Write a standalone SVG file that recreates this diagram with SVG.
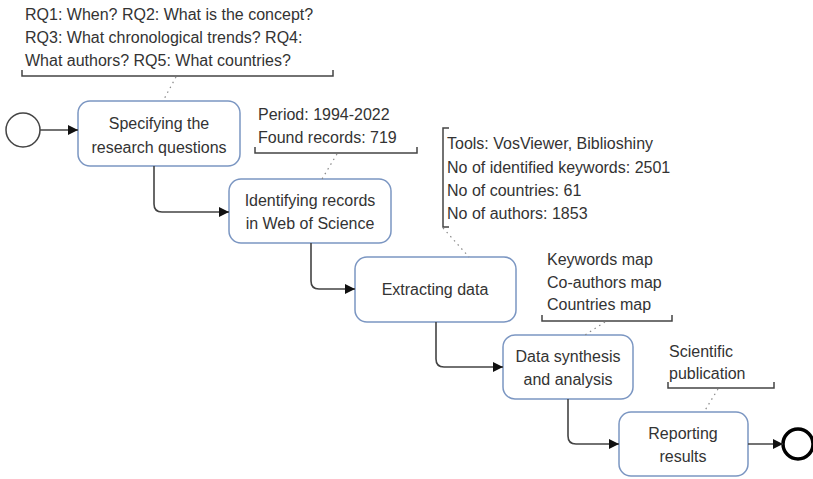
<svg xmlns="http://www.w3.org/2000/svg" width="813" height="479" viewBox="0 0 813 479">
<defs>
<style>
text{font-family:"Liberation Sans","Open Sans",Arial,sans-serif;font-size:16px;fill:#333}
.box{fill:#fff;stroke:#7b96c2;stroke-width:1.5}
.flow{fill:none;stroke:#444;stroke-width:1.6}
.br{fill:none;stroke:#444;stroke-width:1.5}
.dot{fill:none;stroke:#888;stroke-width:1.2;stroke-dasharray:1.5 4}
.c{text-anchor:middle}
</style>
<marker id="ah" viewBox="0 0 10 10" refX="10" refY="5" markerWidth="10" markerHeight="10" markerUnits="userSpaceOnUse" orient="auto">
<path d="M0,0 L10,5 L0,10 Z" fill="#111"/>
</marker>
</defs>
<rect width="813" height="479" fill="#fff"/>

<g id="start"><circle cx="23" cy="130" r="17" fill="#fff" stroke="#444" stroke-width="1.5"/></g>
<g id="end"><circle cx="798" cy="444" r="15" fill="#fff" stroke="#000" stroke-width="3.5"/></g>

<g id="n1"><rect class="box" x="78" y="101" width="162" height="65" rx="12"/>
<text class="c" x="159" y="129">Specifying the</text><text class="c" x="159" y="153">research questions</text></g>
<g id="n2"><rect class="box" x="229" y="179" width="162" height="64" rx="12"/>
<text class="c" x="310" y="206">Identifying records</text><text class="c" x="310" y="229">in Web of Science</text></g>
<g id="n3"><rect class="box" x="355" y="257" width="161" height="65" rx="12"/>
<text class="c" x="435" y="295">Extracting data</text></g>
<g id="n4"><rect class="box" x="503" y="335" width="130" height="64" rx="12"/>
<text class="c" x="568" y="362">Data synthesis</text><text class="c" x="568" y="385">and analysis</text></g>
<g id="n5"><rect class="box" x="619" y="412" width="129" height="64" rx="12"/>
<text class="c" x="683" y="439">Reporting</text><text class="c" x="683" y="462">results</text></g>

<g id="a1"><text x="25" y="20">RQ1: When? RQ2: What is the concept?</text>
<text x="25" y="43">RQ3: What chronological trends? RQ4:</text>
<text x="25" y="66">What authors? RQ5: What countries?</text>
<path class="br" d="M22,70 V76 H333 V70"/></g>
<g id="a2"><text x="258" y="120">Period: 1994-2022</text><text x="258" y="143">Found records: 719</text>
<path class="br" d="M255,147 V153 H417 V147"/></g>
<g id="a3"><path class="br" d="M449,128 H443 V227 H449"/>
<text x="447" y="149">Tools: VosViewer, Biblioshiny</text>
<text x="447" y="173">No of identified keywords: 2501</text>
<text x="447" y="196">No of countries: 61</text>
<text x="447" y="219">No of authors: 1853</text></g>
<g id="a4"><text x="547" y="265">Keywords map</text><text x="547" y="288">Co-authors map</text><text x="547" y="310">Countries map</text>
<path class="br" d="M542,315 V321 H672 V315"/></g>
<g id="a5"><text x="669" y="357">Scientific</text><text x="669" y="379">publication</text>
<path class="br" d="M668,382 V388 H774 V382"/></g>

<g id="connectors">
<path class="flow" marker-end="url(#ah)" d="M40,130 H78"/>
<path class="flow" marker-end="url(#ah)" d="M154,166 V204 Q154,212 162,212 H229"/>
<path class="flow" marker-end="url(#ah)" d="M311,243 V281 Q311,289 319,289 H355"/>
<path class="flow" marker-end="url(#ah)" d="M436,322 V359 Q436,367 444,367 H503"/>
<path class="flow" marker-end="url(#ah)" d="M568,399 V436 Q568,444 576,444 H619"/>
<path class="flow" marker-end="url(#ah)" d="M748,444 H783"/>
<path class="dot" d="M176,77 L163,101"/>
<path class="dot" d="M337,154 L322,179"/>
<path class="dot" d="M443,228 L469,257"/>
<path class="dot" d="M605,322 L585,335"/>
<path class="dot" d="M718,389 L704,412"/>
</g>
</svg>
